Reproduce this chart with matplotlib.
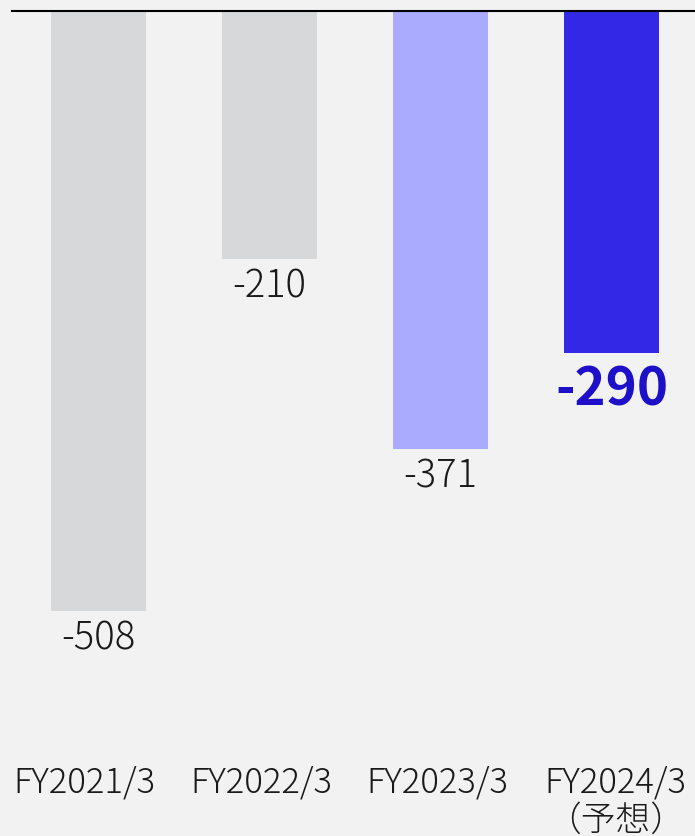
import matplotlib
matplotlib.use("Agg")
import matplotlib.pyplot as plt
from matplotlib.transforms import ScaledTranslation

plt.rcParams['font.family'] = ['Noto Sans CJK JP', 'DejaVu Sans']

categories = ["FY2021/3", "FY2022/3", "FY2023/3", "FY2024/3\n（予想）"]
values = [-508, -210, -371, -290]
bar_colors = ["#d7d8da", "#d7d8da", "#aaaaff", "#3328e6"]
label_colors = ["#1a1a1a", "#1a1a1a", "#1a1a1a", "#1d10c8"]
label_weights = ["light", "light", "light", "bold"]
label_sizes = [27.5, 27.5, 27.5, 38]
label_dy = [-5, -5, -5, -6.5]
tick_dx_px = [-14, -8.5, -3, 4]

W, H = 695, 837
fig = plt.figure(figsize=(W/100, H/100), dpi=100)
fig.patch.set_facecolor("#f2f2f2")

px_per_unit = 1.181
ax_top = 12
ax_bot = 762
ax_left = 12
ax = fig.add_axes([ax_left/W, 1 - ax_bot/H, (W-ax_left)/W, (ax_bot-ax_top)/H])
ax.set_facecolor("#f2f2f2")

x = list(range(len(categories)))
ax.bar(x, values, width=0.556, color=bar_colors, zorder=2)
ax.set_xlim(-0.506, 3.488)
ax.set_ylim(-(ax_bot-ax_top)/px_per_unit, 0)

for xi, v, c, w, s, dy in zip(x, values, label_colors, label_weights, label_sizes, label_dy):
    ax.annotate(f"{v}", (xi, v), xytext=(0, dy), textcoords="offset points",
                ha="center", va="top", color=c, fontsize=s, fontweight=w)

for sp in ["left", "right", "bottom"]:
    ax.spines[sp].set_visible(False)
ax.spines["top"].set_color("#000000")
ax.spines["top"].set_linewidth(1.5)
ax.spines["top"].set_zorder(3)

ax.set_yticks([])
ax.set_xticks(x)
ax.set_xticklabels(categories, fontsize=25, color="#1a1a1a", linespacing=1.08,
                   fontweight="light")
ax.tick_params(axis="x", length=0, pad=2)
for lbl, dx in zip(ax.get_xticklabels(), tick_dx_px):
    lbl.set_transform(lbl.get_transform() + ScaledTranslation(dx/100, 0, fig.dpi_scale_trans))

fig.savefig("out.png", dpi=100, facecolor=fig.get_facecolor())
